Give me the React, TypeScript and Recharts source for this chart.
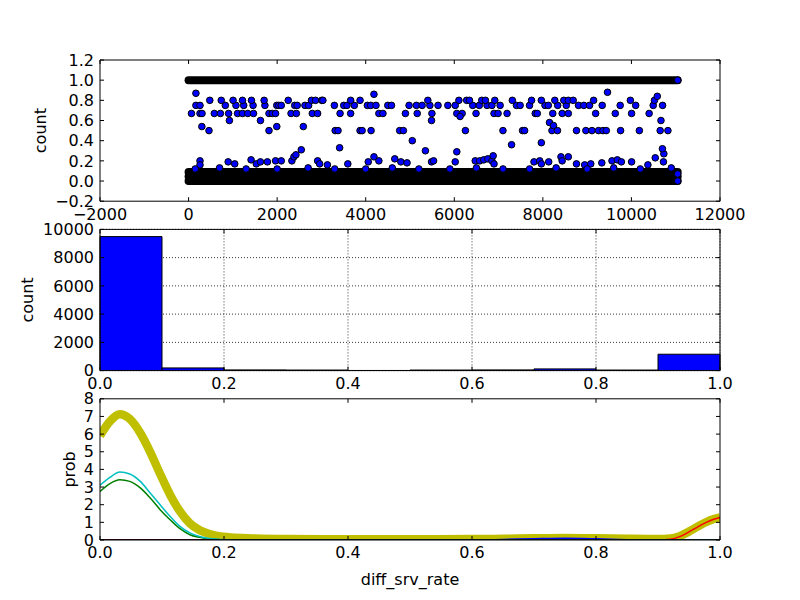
import React from "react";
import { ComposedChart, Scatter, Line, Bar, XAxis, YAxis, CartesianGrid } from "recharts";

// ---- top panel: diff_srv_rate per record (scatter) ----
const scatterXTicks = [-2000, 0, 2000, 4000, 6000, 8000, 10000, 12000];
const scatterYTicks = [-0.2, 0, 0.2, 0.4, 0.6, 0.8, 1.0, 1.2];

// the dense rows (solid black in the picture): start / end record and the levels they cover
const bandStart = 0;
const bandEnd = 11045;
const bandHighLevels = [1.0];
const bandLowLevels = [0, 0.045, 0.09];

// isolated points, grouped by the value they sit on
const x067 = [65, 258, 304, 581, 719, 904, 1106, 1217, 1337, 1466, 1816, 1890, 1964, 2314, 2434, 2794, 2914, 3421, 3660, 4297, 4389, 4896, 5163, 5495, 6057, 6177, 6491, 6897, 6989, 7192, 7828, 7874, 8224, 8436, 8575, 9192, 9635, 10004, 10400];
const x075 = [166, 258, 830, 1070, 1245, 1457, 1724, 1992, 2038, 2093, 2397, 2453, 2628, 2711, 3292, 3504, 3577, 3743, 4038, 4112, 4232, 4499, 4582, 4979, 5145, 5274, 5449, 5633, 5855, 6021, 6417, 6565, 6740, 6850, 7035, 7404, 7487, 7699, 8049, 8123, 8335, 8529, 8805, 8925, 9054, 9340, 9746, 10096, 10492, 10704];
const x080 = [479, 738, 1005, 1217, 1420, 1706, 2250, 2775, 2867, 3006, 3033, 3660, 3872, 5403, 6104, 6279, 6343, 6620, 6703, 6915, 7311, 7745, 7966, 8270, 8473, 8575, 8685, 9146, 9976, 10520];
const x050 = [461, 1816, 3310, 3375, 3872, 3919, 4121, 4767, 4850, 6251, 7099, 7542, 7588, 8206, 8759, 8971, 9109, 9257, 9358, 9432, 9755, 10179, 10649, 10824];
const otherPoints: [number, number][] = [
  [166, 0.87], [300, 0.54], [922, 0.6], [1623, 0.6], [1992, 0.54], [2591, 0.54], [2545, 0.31],
  [3411, 0.33], [4186, 0.86], [5052, 0.4], [5348, 0.3], [5486, 0.6], [6131, 0.64], [7293, 0.36],
  [7966, 0.38], [8150, 0.58], [8240, 0.55], [8330, 0.5], [9460, 0.88], [10584, 0.84], [10667, 0.6],
  [10732, 0.27], [10700, 0.32], [11045, 1.0],
];
const lowPoints: [number, number][] = [
  [258, 0.2], [258, 0.16], [894, 0.19], [1042, 0.17], [1411, 0.21], [1530, 0.17], [1623, 0.19],
  [1780, 0.19], [1964, 0.2], [2093, 0.2], [2333, 0.2], [2379, 0.24], [2425, 0.26], [2914, 0.2],
  [2960, 0.17], [3135, 0.16], [3596, 0.17], [4057, 0.19], [4186, 0.24], [4297, 0.2], [4656, 0.22],
  [4794, 0.19], [4933, 0.18], [5486, 0.19], [5532, 0.2], [6021, 0.19], [6057, 0.29], [6473, 0.2],
  [6574, 0.2], [6666, 0.21], [6758, 0.22], [6850, 0.2], [6878, 0.25], [6897, 0.17], [7800, 0.19],
  [7929, 0.2], [7966, 0.17], [8132, 0.19], [8409, 0.24], [8436, 0.2], [8575, 0.24], [8759, 0.17],
  [8944, 0.16], [9082, 0.17], [9331, 0.18], [9561, 0.2], [9681, 0.21], [9773, 0.19], [10004, 0.19],
  [10372, 0.16], [10538, 0.23], [10723, 0.19],
  [150, 0.12], [700, 0.13], [1300, 0.12], [2000, 0.12], [2700, 0.13], [3300, 0.12], [4000, 0.12],
  [4600, 0.13], [5200, 0.12], [5900, 0.12], [6500, 0.13], [7100, 0.12], [7700, 0.12], [8300, 0.13],
  [9000, 0.12], [9600, 0.13], [10200, 0.12], [10900, 0.13], [11045, 0.07], [11045, 0.0],
];

// ---- middle panel: histogram ----
const binStarts = [0, 0.1, 0.2, 0.3, 0.4, 0.5, 0.6, 0.7, 0.8, 0.9];
const binCounts = [9490, 190, 50, 40, 10, 40, 50, 120, 40, 1160];
const histYTicks = [0, 2000, 4000, 6000, 8000, 10000];
const unitTicks = [0, 0.2, 0.4, 0.6, 0.8, 1.0];

// ---- bottom panel: density curves ----
const kdeX = [0, 0.016, 0.032, 0.048, 0.065, 0.081, 0.097, 0.113, 0.129, 0.145, 0.161, 0.177, 0.194, 0.25, 0.3, 0.4, 0.5, 0.6, 0.65, 0.7, 0.75, 0.8, 0.85, 0.9, 0.92, 0.935, 0.952, 0.965, 0.978, 0.99, 1.0];
const kdeAll = [5.91, 6.72, 7.12, 6.86, 6.06, 4.98, 3.74, 2.57, 1.62, 0.94, 0.55, 0.34, 0.2, 0.08, 0.05, 0.04, 0.04, 0.05, 0.07, 0.1, 0.12, 0.1, 0.07, 0.05, 0.08, 0.22, 0.52, 0.78, 1.02, 1.19, 1.28];
const kdeCyan = [3.1, 3.55, 3.85, 3.74, 3.32, 2.66, 2.0, 1.34, 0.77, 0.4, 0.2, 0.08, 0.03, 0, 0, 0, 0, 0, 0, 0, 0, 0, 0, 0, 0, 0, 0, 0, 0, 0, 0];
const kdeGreen = [2.75, 3.2, 3.42, 3.32, 2.95, 2.38, 1.72, 1.15, 0.64, 0.3, 0.15, 0.05, 0.02, 0, 0, 0, 0, 0, 0, 0, 0, 0, 0, 0, 0, 0, 0, 0, 0, 0, 0];
const kdeRed = [0, 0, 0, 0, 0, 0, 0, 0, 0, 0, 0, 0, 0, 0, 0, 0, 0, 0, 0, 0, 0, 0, 0, 0, 0.04, 0.19, 0.5, 0.76, 1.0, 1.18, 1.28];
const kdeBlue = [0, 0, 0, 0, 0, 0, 0, 0, 0, 0, 0, 0, 0, 0, 0, 0, 0, 0, 0.03, 0.07, 0.1, 0.07, 0.02, 0, 0, 0, 0, 0, 0, 0, 0];
const kdeBlack = [0, 0, 0, 0, 0, 0, 0, 0, 0, 0, 0, 0, 0, 0, 0, 0, 0, 0, 0, 0, 0, 0, 0, 0, 0, 0, 0, 0, 0, 0, 0];
const probTicks = [0, 1, 2, 3, 4, 5, 6, 7, 8];

const FONT = "DejaVu Sans";
const tickStyle = { fontSize: 16, fill: "#000", fontFamily: FONT };
const labelStyle = { fontSize: 16, fill: "#000", fontFamily: FONT, textAnchor: "middle" as const };
const neg = (s: string) => s.replace("-", "\u2212");

const scatterData = [
  ...x067.map((x) => ({ x, y: 0.67 })),
  ...x075.map((x) => ({ x, y: 0.75 })),
  ...x080.map((x) => ({ x, y: 0.8 })),
  ...x050.map((x) => ({ x, y: 0.5 })),
  ...otherPoints.map(([x, y]) => ({ x, y })),
  ...lowPoints.map(([x, y]) => ({ x, y })),
];
const bandLevels = [...bandHighLevels, ...bandLowLevels];

const histData = binStarts.map((lo, i) => ({ bin: lo.toFixed(1), lo, count: binCounts[i] }));
const kdeData = kdeX.map((x, i) => ({
  x,
  all: kdeAll[i],
  cyan: kdeCyan[i],
  green: kdeGreen[i],
  red: kdeRed[i],
  blue: kdeBlue[i],
  black: kdeBlack[i],
}));

const noLabel = () => <g />;

// top and right spines with inward ticks, no labels
function frame(xKey: string, xDomain: number[], xTicks: number[], yKey: string, yDomain: number[], yTicks: number[]) {
  return [
    <XAxis key="ft" xAxisId="top" orientation="top" type="number" dataKey={xKey} domain={xDomain} ticks={xTicks}
      allowDataOverflow interval={0} height={1} tickSize={-4} tick={noLabel} stroke="#000" />,
    <YAxis key="fr" yAxisId="right" orientation="right" type="number" dataKey={yKey} domain={yDomain} ticks={yTicks}
      allowDataOverflow interval={0} width={1} tickSize={-4} tick={noLabel} stroke="#000" />,
  ];
}

const layer: React.CSSProperties = { position: "absolute", left: 0, top: 0 };

const dot = (p: any) => (
  <circle cx={p.cx} cy={p.cy} r={3.3} fill="#0000ff" stroke="#000" strokeWidth={1} />
);

export default function App() {
  return (
    <div style={{ position: "absolute", left: 0, top: 0, width: 800, height: 600, background: "#fff" }}>
      <div style={layer}>
        <ComposedChart width={800} height={600} margin={{ top: 59, right: 79, bottom: 368.8, left: 40 }}>
          <XAxis xAxisId="b" type="number" dataKey="x" domain={[-2000, 12000]} ticks={scatterXTicks}
            allowDataOverflow interval={0} height={30} tickSize={-4} tickMargin={11} stroke="#000"
            tick={tickStyle} tickFormatter={(v) => neg(String(v))} />
          <YAxis yAxisId="l" type="number" dataKey="y" domain={[-0.2, 1.2]} ticks={scatterYTicks}
            allowDataOverflow interval={0} width={60} tickSize={-4} tickMargin={10} stroke="#000"
            tick={tickStyle} tickFormatter={(v) => neg(Number(v).toFixed(1))}
            label={{ value: "count", angle: -90, position: "insideLeft", offset: 0, style: labelStyle }} />
          {frame("x", [-2000, 12000], scatterXTicks, "y", [-0.2, 1.2], scatterYTicks)}
          {bandLevels.map((lv) => (
            <Line key={"band" + lv} xAxisId="b" yAxisId="l" data={[{ x: bandStart, y: lv }, { x: bandEnd, y: lv }]}
              dataKey="y" stroke="#000" strokeWidth={8} strokeLinecap="round" dot={false}
              isAnimationActive={false} />
          ))}
          <Scatter xAxisId="b" yAxisId="l" data={scatterData} shape={dot} isAnimationActive={false} />
        </ComposedChart>
      </div>

      <div style={layer}>
        <ComposedChart width={800} height={600} data={histData} barCategoryGap={0}
          margin={{ top: 228.4, right: 79, bottom: 199.4, left: 40 }}>
          <XAxis xAxisId="bins" dataKey="bin" orientation="top" height={0} hide />
          <XAxis xAxisId="val" type="number" dataKey="lo" domain={[0, 1]} ticks={unitTicks}
            allowDataOverflow interval={0} height={30} tickSize={-4} tickMargin={11} stroke="#000"
            tick={tickStyle} tickFormatter={(v) => Number(v).toFixed(1)} />
          <YAxis yAxisId="l" type="number" dataKey="count" domain={[0, 10000]} ticks={histYTicks}
            allowDataOverflow interval={0} width={60} tickSize={-4} tickMargin={10} stroke="#000"
            tick={tickStyle}
            label={{ value: "count", angle: -90, position: "insideLeft", offset: -13, style: labelStyle }} />
          <Bar xAxisId="bins" yAxisId="l" dataKey="count" fill="#0000ff" stroke="#000" strokeWidth={1}
            isAnimationActive={false} />
          <CartesianGrid xAxisId="val" yAxisId="l" stroke="#000" strokeWidth={0.8} strokeDasharray="1 2" />
          {frame("lo", [0, 1], unitTicks, "count", [0, 10000], histYTicks)}
        </ComposedChart>
      </div>

      <div style={layer}>
        <ComposedChart width={800} height={600} data={kdeData}
          margin={{ top: 397.8, right: 79, bottom: 0, left: 40 }}>
          <XAxis xAxisId="b" type="number" dataKey="x" domain={[0, 1]} ticks={unitTicks}
            allowDataOverflow interval={0} height={60} tickSize={-4} tickMargin={11} stroke="#000"
            tick={tickStyle} tickFormatter={(v) => Number(v).toFixed(1)}
            label={{ value: "diff_srv_rate", position: "insideBottom", offset: 15, style: labelStyle }} />
          <YAxis yAxisId="l" type="number" domain={[0, 8]} ticks={probTicks}
            allowDataOverflow interval={0} width={60} tickSize={-4} tickMargin={10} stroke="#000"
            tick={tickStyle}
            label={{ value: "prob", angle: -90, position: "insideLeft", offset: 29, style: labelStyle }} />
          {frame("x", [0, 1], unitTicks, "all", [0, 8], probTicks)}
          <Line xAxisId="b" yAxisId="l" type="monotone" dataKey="all" stroke="#bfbf00" strokeWidth={8.5}
            dot={false} isAnimationActive={false} />
          <Line xAxisId="b" yAxisId="l" type="monotone" dataKey="blue" stroke="#0000ff" strokeWidth={1.5}
            dot={false} isAnimationActive={false} />
          <Line xAxisId="b" yAxisId="l" type="monotone" dataKey="green" stroke="#008000" strokeWidth={1.5}
            dot={false} isAnimationActive={false} />
          <Line xAxisId="b" yAxisId="l" type="monotone" dataKey="red" stroke="#ff0000" strokeWidth={1.5}
            dot={false} isAnimationActive={false} />
          <Line xAxisId="b" yAxisId="l" type="monotone" dataKey="cyan" stroke="#00bfbf" strokeWidth={1.5}
            dot={false} isAnimationActive={false} />
          <Line xAxisId="b" yAxisId="l" type="monotone" dataKey="black" stroke="#000" strokeWidth={1.5}
            dot={false} isAnimationActive={false} />
        </ComposedChart>
      </div>
    </div>
  );
}
